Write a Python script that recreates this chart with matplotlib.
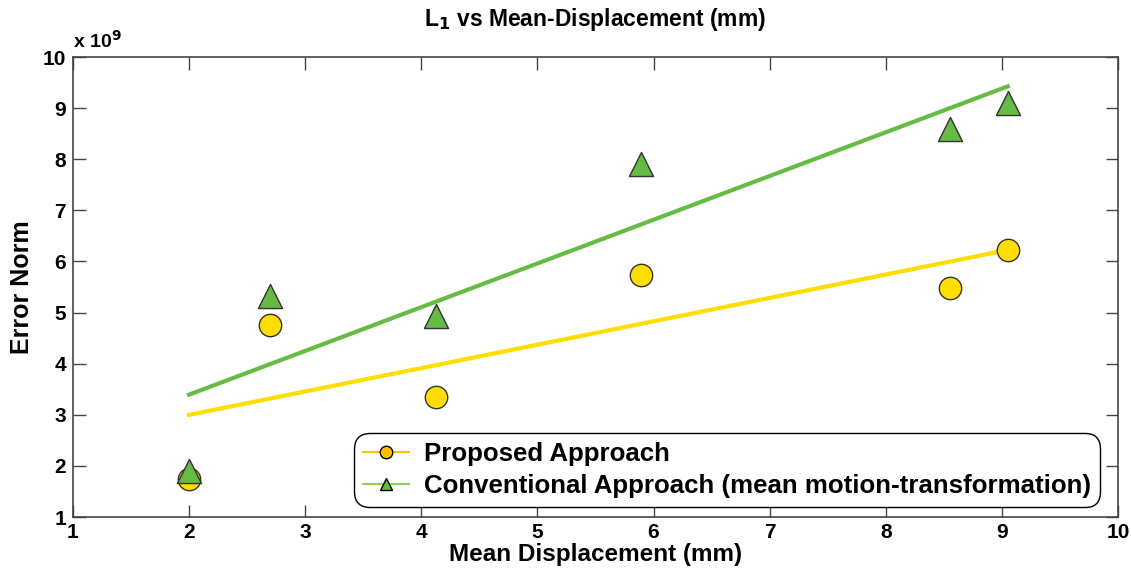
import numpy as np
import matplotlib
matplotlib.use("Agg")
import matplotlib.pyplot as plt
from matplotlib.lines import Line2D

plt.rcParams['font.family'] = ['Liberation Sans', 'DejaVu Sans']
plt.rcParams['font.weight'] = 'bold'

# data (error norm in units of 1e9)
mean_disp = [2.0, 2.70, 4.13, 5.89, 8.55, 9.05]
proposed = [1.75, 4.75, 3.35, 5.74, 5.48, 6.22]
conventional = [1.90, 5.32, 4.93, 7.90, 8.60, 9.10]
xticks = [1, 2, 3, 4, 5, 6, 7, 8, 9, 10]
yticks = [1, 2, 3, 4, 5, 6, 7, 8, 9, 10]

yellow = '#FFDD00'
green = '#66BB44'

fig = plt.figure(figsize=(11.31, 5.73), dpi=100)
ax = fig.add_axes([0.0645, 0.0977, 0.924, 0.8028])

x = np.array(mean_disp)
xs = np.array([x.min(), x.max()])
for ys, col in [(proposed, yellow), (conventional, green)]:
    p = np.polyfit(x, ys, 1)
    ax.plot(xs, np.polyval(p, xs), color=col, lw=3, zorder=2)

ax.scatter(x, proposed, s=260, marker='o', color=yellow, edgecolors='#333333', linewidths=1.0, zorder=3)
ax.scatter(x, conventional, s=300, marker='^', color=green, edgecolors='#333333', linewidths=1.0, zorder=3)

ax.set_xlim(1, 10)
ax.set_ylim(1, 10)
ax.set_xticks(xticks)
ax.set_yticks(yticks)
ax.tick_params(direction='in', length=9, width=1, top=True, right=True, labelsize=15, pad=5, colors='#444444', labelcolor='black')
ax.tick_params(axis='x', pad=4)
for lab in ax.get_xticklabels() + ax.get_yticklabels():
    lab.set_fontweight('bold')
for s in ax.spines.values():
    s.set_color('#444444')
    s.set_linewidth(1.2)

ax.text(0.0, 1.012, r'x 10$^9$', transform=ax.transAxes, fontsize=14, ha='left', va='bottom')
ax.set_title(r'L$_\mathbf{1}$ vs Mean-Displacement (mm)', fontsize=16.5, fontweight='bold', pad=22)
ax.set_xlabel('Mean Displacement (mm)', fontsize=17.5, fontweight='bold', labelpad=1)
ax.set_ylabel('Error Norm', fontsize=18, fontweight='bold', labelpad=6)

handles = [
    Line2D([0], [0], color='#FFC000', lw=1.5, marker='o', markersize=9, markerfacecolor='#FFC000', markeredgecolor='black'),
    Line2D([0], [0], color='#92D050', lw=1.5, marker='^', markersize=9, markerfacecolor='#66BB44', markeredgecolor='black'),
]
leg = ax.legend(handles, ['Proposed Approach', 'Conventional Approach (mean motion-transformation)'],
                loc='lower right', bbox_to_anchor=(0.983, 0.022), borderaxespad=0, fontsize=18.6, frameon=True,
                fancybox=True, edgecolor='black', framealpha=1, handlelength=1.75, borderpad=0.35,
                labelspacing=0.3, handletextpad=0.6)
leg.get_frame().set_linewidth(1.0)
leg.get_frame().set_boxstyle('round', pad=0, rounding_size=0.6)
for t in leg.get_texts():
    t.set_fontweight('bold')

fig.savefig('out.png', dpi=100)
